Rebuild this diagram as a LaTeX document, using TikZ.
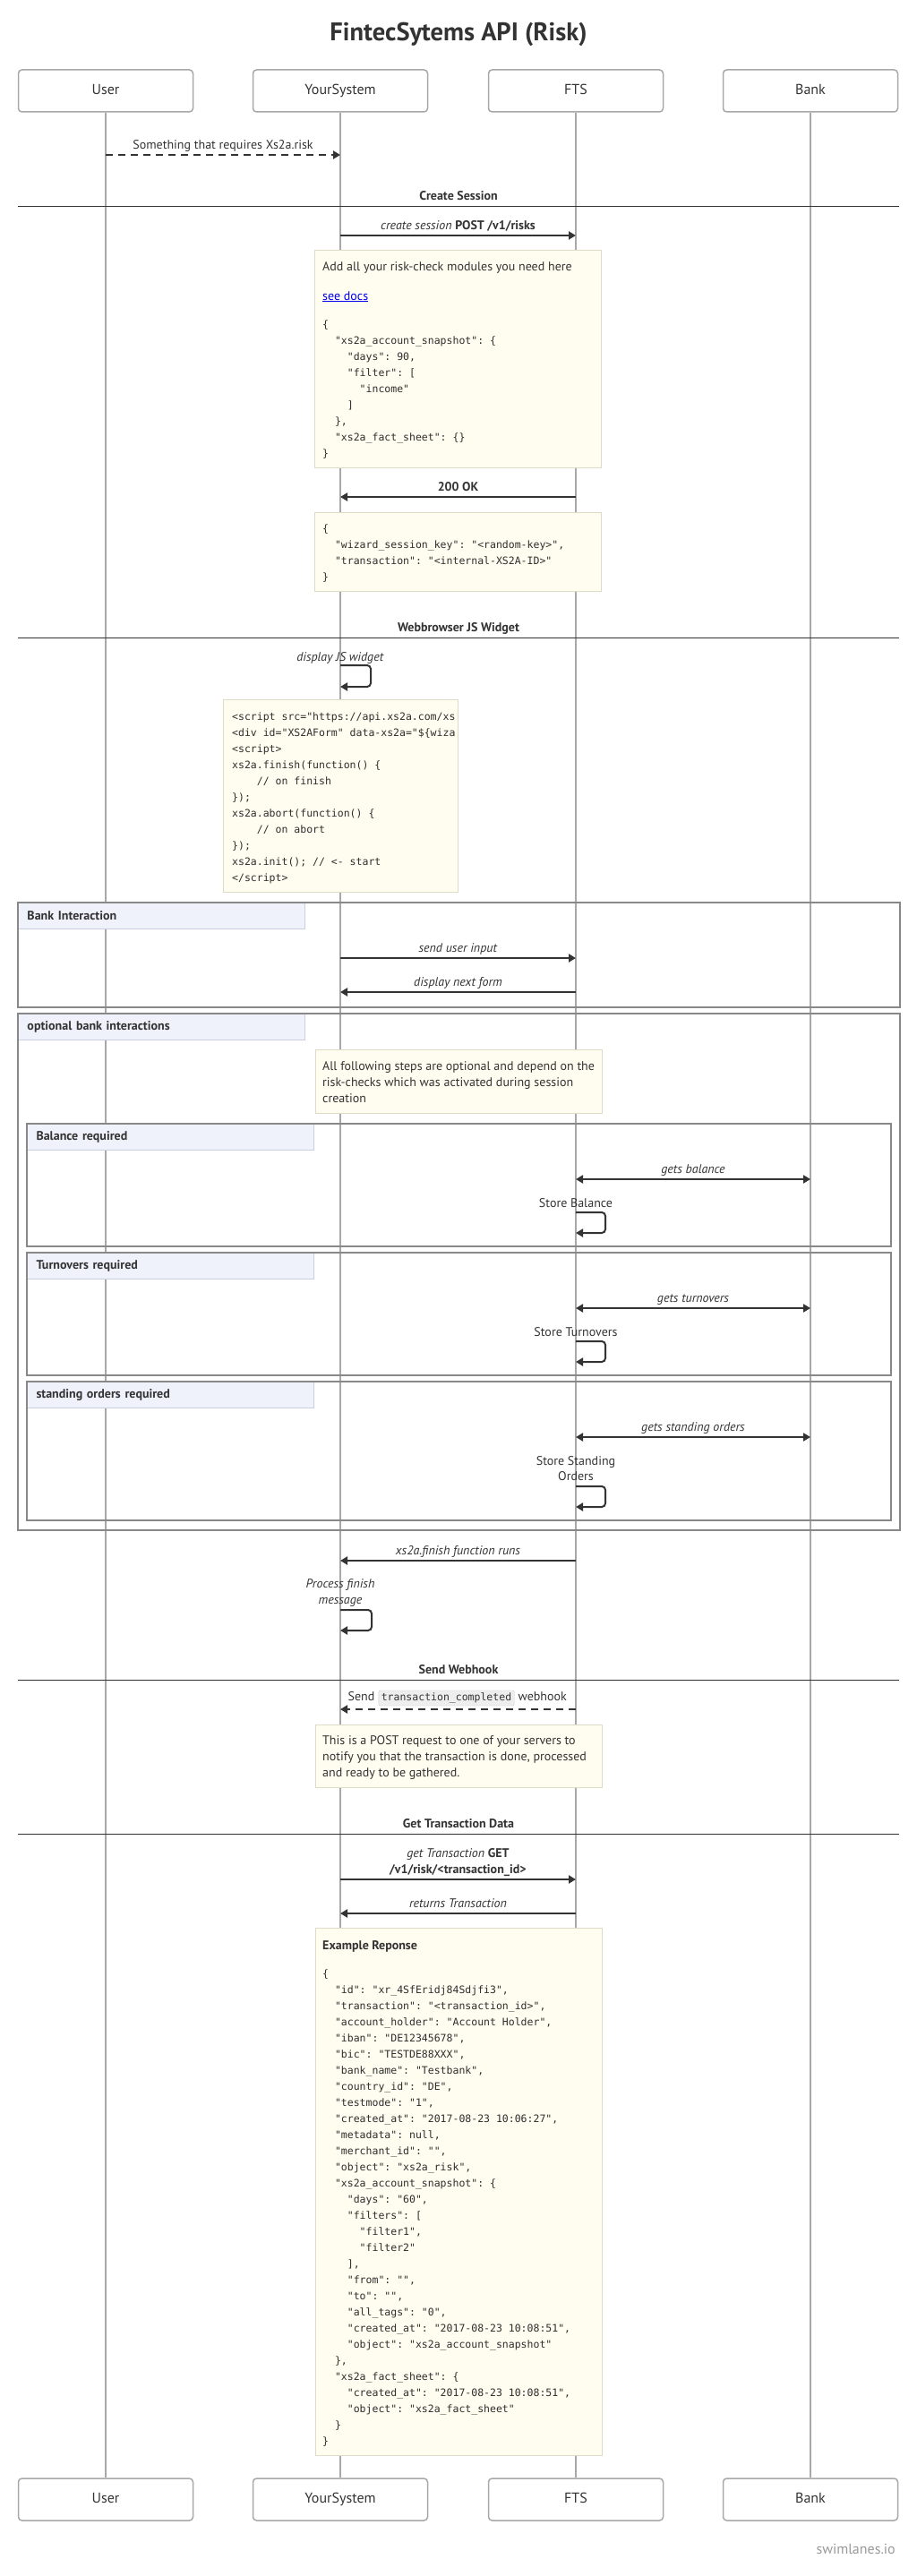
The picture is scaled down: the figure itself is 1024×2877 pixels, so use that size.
\documentclass[tikz,border=0pt]{standalone}
\usepackage{fontspec}
\setmainfont{PT Sans}
\setmonofont{DejaVu Sans Mono}
\usetikzlibrary{arrows.meta,positioning}

\definecolor{ink}{HTML}{333333}
\definecolor{lifegray}{HTML}{A8A8A8}
\definecolor{framegray}{HTML}{888888}
\definecolor{notefill}{HTML}{FFFDF0}
\definecolor{noteline}{HTML}{DDDBC6}
\definecolor{tabfill}{HTML}{EFF2FB}
\definecolor{tabline}{HTML}{C9CEE0}
\definecolor{linkblue}{HTML}{0000EE}
\definecolor{codefill}{HTML}{EEEEEE}
\definecolor{codeline}{HTML}{CCCCCC}
\definecolor{markgray}{HTML}{999999}

% indent by n characters of the current (mono) font
\newcommand{\indt}[1]{\hspace*{\dimexpr#1\fontcharwd\font`\x\relax}}

\tikzset{
  actor/.style={draw=lifegray, line width=1.5pt, rounded corners=4pt, fill=white,
    minimum width=195pt, minimum height=47pt, text height=11pt, text depth=3pt,
    font=\fontsize{16}{19}\selectfont, text=ink},
  life/.style={draw=lifegray, line width=1.5pt},
  sect/.style={draw=ink, line width=1pt},
  headtext/.style={anchor=base, inner sep=0pt, text=ink, font=\fontsize{14}{17}\selectfont\bfseries},
  titletext/.style={anchor=base, inner sep=0pt, text=ink, font=\fontsize{28.5}{34}\selectfont\bfseries},
  frame/.style={draw=framegray, line width=2pt},
  tab/.style={draw=tabline, fill=tabfill, line width=1pt, anchor=north west, text width=300pt,
    inner xsep=10pt, minimum height=29pt, align=left, text=ink, font=\fontsize{14}{17}\selectfont\bfseries},
  note/.style={draw=noteline, fill=notefill, line width=1pt, anchor=north west, inner sep=0pt},
  ntext/.style={anchor=base west, inner sep=0pt, text=ink, font=\fontsize{14}{18}\selectfont},
  code/.style={anchor=base west, inner sep=0pt, text=ink!90!black, font=\fontsize{11.5}{18}\selectfont\ttfamily},
  lbl/.style={anchor=base, inner sep=0pt, text=ink, font=\fontsize{14}{17}\selectfont},
  msg/.style={draw=ink, line width=2pt, -{Triangle[length=8pt,width=9pt]}},
  dmsg/.style={msg, dash pattern=on 8pt off 6pt},
  both/.style={draw=ink, line width=2pt, {Triangle[length=8pt,width=9pt]}-{Triangle[length=8pt,width=9pt]}},
  selfmsg/.style={msg, rounded corners=4pt},
  inlinecode/.style={draw=codeline, fill=codefill, rounded corners=2pt, inner xsep=3pt, inner ysep=3pt,
    text height=8.5pt, text depth=2.5pt, text=ink, font=\fontsize{11.5}{14}\selectfont\ttfamily},
}

\begin{document}
\begin{tikzpicture}[x=1pt,y=-1pt]
  \useasboundingbox (0,0) rectangle (1024,2877);

  \node[titletext] (title) at (512,46) {FintecSytems API (Risk)};

  % participants, top and bottom, with their lifelines
  \foreach \n/\x/\lab in {user/118/User,sys/380/YourSystem,fts/643/FTS,bank/905/Bank}{
    \node[actor] (\n) at (\x,101.5) {\lab};
    \node[actor] (\n-bot) at (\x,2791.5) {\lab};
    \draw[life] (\n.south) -- (\n-bot.north);
  }

  % section separators
  \foreach \y/\lab in {230/Create Session,712/Webbrowser JS Widget,1876/Send Webhook,2048/Get Transaction Data}{
    \draw[sect] (20,\y) -- (1004,\y);
    \node[headtext] at (512,\y-7) {\lab};
  }

  % frames
  \foreach \xa/\ya/\xb/\yb/\lab in {20/1008/1005/1125/Bank Interaction,
      20/1132/1005/1709/optional bank interactions,
      30/1255/995/1392/Balance required,
      30/1399/995/1536/Turnovers required,
      30/1543/995/1698/standing orders required}{
    \node[tab] at (\xa,\ya) {\lab};
    \draw[frame] (\xa,\ya) rectangle (\xb,\yb);
  }

  % notes
  \node[note, minimum width=320pt, minimum height=243pt] (n1) at (351,279) {};
  \node[note, minimum width=320pt, minimum height=88pt] (n2) at (351,572) {};
  \node[note, minimum width=262pt, minimum height=215pt] (n3) at (249,781) {};
  \node[note, minimum width=320pt, minimum height=71pt] (n4) at (352,1172) {};
  \node[note, minimum width=320pt, minimum height=70pt] (n5) at (352,1926) {};
  \node[note, minimum width=320pt, minimum height=589pt] (n6) at (352,2153) {};

  \node[ntext] at (360,302) {Add all your risk-check modules you need here};
  \node[ntext] at (360,335) {\textcolor{linkblue}{\underline{see docs}}};
  \foreach \txt [count=\k from 0] in {{\{},{\indt2"xs2a\_account\_snapshot": \{},{\indt4"days": 90,},
      {\indt4"filter": [},{\indt6"income"},{\indt4]},{\indt2\},},{\indt2"xs2a\_fact\_sheet": \{\}},{\}}}{
    \node[code] at (360,366+18*\k) {\txt};
  }

  \foreach \txt [count=\k from 0] in {{\{},{\indt2"wizard\_session\_key": "<random-key>",},
      {\indt2"transaction": "<internal-XS2A-ID>"},{\}}}{
    \node[code] at (360,594+18*\k) {\txt};
  }

  \foreach \txt [count=\k from 0] in {{<script src="https://api.xs2a.com/xs},{<div id="XS2AForm" data-xs2a="\$\{wiza},
      {<script>},{xs2a.finish(function() \{},{\indt4// on finish},{\});},
      {xs2a.abort(function() \{},{\indt4// on abort},{\});},{xs2a.init(); // <- start},{</script>}}{
    \node[code] at (259,804+18*\k) {\txt};
  }

  \foreach \txt [count=\k from 0] in {All following steps are optional and depend on the,
      risk-checks which was activated during session,creation}{
    \node[ntext] at (360,1195+18*\k) {\txt};
  }

  \foreach \txt [count=\k from 0] in {This is a POST request to one of your servers to,
      {notify you that the transaction is done, processed},and ready to be gathered.}{
    \node[ntext] at (360,1948+18*\k) {\txt};
  }

  \node[ntext, font=\fontsize{14}{18}\selectfont\bfseries] at (360,2177) {Example Reponse};
  \foreach \txt [count=\k from 0] in {{\{},
      {\indt2"id": "xr\_4SfEridj84Sdjfi3",},
      {\indt2"transaction": "<transaction\_id>",},
      {\indt2"account\_holder": "Account Holder",},
      {\indt2"iban": "DE12345678",},
      {\indt2"bic": "TESTDE88XXX",},
      {\indt2"bank\_name": "Testbank",},
      {\indt2"country\_id": "DE",},
      {\indt2"testmode": "1",},
      {\indt2"created\_at": "2017-08-23 10:06:27",},
      {\indt2"metadata": null,},
      {\indt2"merchant\_id": "",},
      {\indt2"object": "xs2a\_risk",},
      {\indt2"xs2a\_account\_snapshot": \{},
      {\indt4"days": "60",},
      {\indt4"filters": [},
      {\indt6"filter1",},
      {\indt6"filter2"},
      {\indt4],},
      {\indt4"from": "",},
      {\indt4"to": "",},
      {\indt4"all\_tags": "0",},
      {\indt4"created\_at": "2017-08-23 10:08:51",},
      {\indt4"object": "xs2a\_account\_snapshot"},
      {\indt2\},},
      {\indt2"xs2a\_fact\_sheet": \{},
      {\indt4"created\_at": "2017-08-23 10:08:51",},
      {\indt4"object": "xs2a\_fact\_sheet"},
      {\indt2\}},
      {\}}}{
    \node[code] at (360,2208+18*\k) {\txt};
  }

  % messages
  \draw[dmsg] (user |- 0,173) -- (sys |- 0,173)
    node[lbl, midway, yshift=7pt] {Something that requires Xs2a.risk};
  \draw[msg] (sys |- 0,263) -- (fts |- 0,263)
    node[lbl, midway, yshift=7pt] {\textit{create session} \textbf{POST /v1/risks}};
  \draw[msg] (fts |- 0,555) -- (sys |- 0,555)
    node[lbl, midway, yshift=7pt] {\textbf{200 OK}};

  \node[lbl] at (sys |- 0,738) {\textit{display JS widget}};
  \draw[selfmsg] (sys |- 0,743) -- ++(34,0) -- ++(0,24) -- ++(-34,0);

  \draw[msg] (sys |- 0,1070) -- (fts |- 0,1070)
    node[lbl, midway, yshift=7pt] {\textit{send user input}};
  \draw[msg] (fts |- 0,1108) -- (sys |- 0,1108)
    node[lbl, midway, yshift=7pt] {\textit{display next form}};

  \draw[both] (fts |- 0,1317) -- (bank |- 0,1317)
    node[lbl, midway, yshift=7pt] {\textit{gets balance}};
  \node[lbl] at (fts |- 0,1348) {Store Balance};
  \draw[selfmsg] (fts |- 0,1354) -- ++(33,0) -- ++(0,23) -- ++(-33,0);

  \draw[both] (fts |- 0,1461) -- (bank |- 0,1461)
    node[lbl, midway, yshift=7pt] {\textit{gets turnovers}};
  \node[lbl] at (fts |- 0,1492) {Store Turnovers};
  \draw[selfmsg] (fts |- 0,1498) -- ++(33,0) -- ++(0,23) -- ++(-33,0);

  \draw[both] (fts |- 0,1605) -- (bank |- 0,1605)
    node[lbl, midway, yshift=7pt] {\textit{gets standing orders}};
  \node[lbl] at (fts |- 0,1636) {Store Standing};
  \node[lbl] at (fts |- 0,1653) {Orders};
  \draw[selfmsg] (fts |- 0,1660) -- ++(33,0) -- ++(0,23) -- ++(-33,0);

  \draw[msg] (fts |- 0,1743) -- (sys |- 0,1743)
    node[lbl, midway, yshift=7pt] {\textit{xs2a.finish function runs}};
  \node[lbl] at (sys |- 0,1773) {\textit{Process finish}};
  \node[lbl] at (sys |- 0,1791) {\textit{message}};
  \draw[selfmsg] (sys |- 0,1798) -- ++(35,0) -- ++(0,23) -- ++(-35,0);

  \node[inlinecode] (hook) at (498.5,1896.5) {transaction\_completed};
  \node[lbl, base left=4pt of hook] {Send};
  \node[lbl, base right=4pt of hook] {webhook};
  \draw[dmsg] (fts |- 0,1909) -- (sys |- 0,1909);

  \draw[msg] (sys |- 0,2099) -- (fts |- 0,2099)
    node[lbl, midway, yshift=7pt] {\textbf{/v1/risk/<transaction\_id>}}
    node[lbl, midway, yshift=25pt] {\textit{get Transaction} \textbf{GET}};
  \draw[msg] (fts |- 0,2137) -- (sys |- 0,2137)
    node[lbl, midway, yshift=7pt] {\textit{returns Transaction}};

  \node[anchor=base east, inner sep=0pt, text=markgray, font=\fontsize{16}{19}\selectfont] at (1000,2852) {swimlanes.io};
\end{tikzpicture}
\end{document}
